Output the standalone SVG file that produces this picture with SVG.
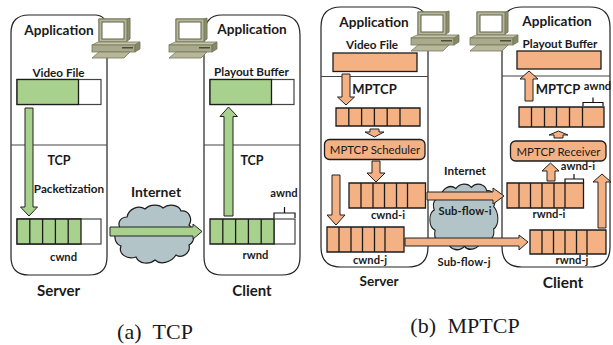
<svg xmlns="http://www.w3.org/2000/svg" width="613" height="345" viewBox="0 0 613 345">
<style>
text{font-family:Lato,"Liberation Sans",sans-serif;font-weight:700;fill:#1a1a1a;text-anchor:middle}
.app{font-size:13.6px}.md{font-size:11.7px}.sm{font-size:11.2px}.reg{font-size:11.4px;font-weight:400}
.big{font-size:15.500px}.srv{font-size:15px}.tcp{font-size:12.500px}.inet{font-size:14px}.mp{font-size:13px}
.cap{font-family:"Liberation Serif",serif;font-weight:400;font-size:22px;word-spacing:6px}
.panel{fill:#fff;stroke:#222;stroke-width:1.2}
.div{stroke:#444;stroke-width:1.1;fill:none}
.g{fill:#a9d18e;stroke:#1c1c1c;stroke-width:1.3}
.o{fill:#f4b183;stroke:#1c1c1c;stroke-width:1.3}
.w{fill:#fff;stroke:#444;stroke-width:1.2}
.ag{fill:#a9d18e;stroke:#222;stroke-width:1}
.ao{fill:#f4b183;stroke:#222;stroke-width:1}
.cl{fill:#b3c4c8;stroke:#1c1c1c;stroke-width:1.2}
.br{fill:none;stroke:#111;stroke-width:1.2}
</style>
<defs>
<g id="pc">
<path d="M7 1h28l3-1v21l-3 2H7z" fill="#8c8d6c" stroke="#77785a"/>
<rect x="7" y="1" width="28" height="23" fill="#b6b79b" stroke="#77785a"/>
<rect x="10" y="4" width="22" height="17" fill="#fff" stroke="#5f6048"/>
<path d="M0 27l6-3h42l-5 3z" fill="#c4c5aa" stroke="#77785a" stroke-width=".8"/>
<rect x="0" y="27" width="43" height="7" fill="#a9aa8c" stroke="#77785a" stroke-width=".8"/>
<path d="M43 27l5-3v7l-5 3z" fill="#85866a" stroke="#77785a" stroke-width=".8"/>
<rect x="30" y="29" width="11" height="1.5" fill="#4b4c38"/>
<path d="M0 40l7-6h31l-6 6z" fill="#b6b79b" stroke="#77785a" stroke-width=".8"/>
</g>
<path id="cloud" d="M12 12C14 3 24 0 30 4C35-1 44-1 48 3C54-2 64 0 66 6C74 5 78 14 74 20C80 25 81 36 74 40C76 48 67 54 61 50C56 58 45 60 40 55C34 60 24 59 21 52C12 55 3 49 6 41C-2 38-2 26 5 23C2 17 6 12 12 12Z"/>
</defs>

<g id="server-a">
<path class="panel" d="M11 145V33Q11 15 29 15H95Q107 15 107 30V257Q107 275 89 275H29Q11 275 11 257V145"/>
<path class="div" d="M11 145H107"/>
<text class="app" x="59" y="35">Application</text>
<text class="md" x="58.500" y="77">Video File</text>
<rect class="w" x="17" y="79.5" width="84" height="25"/>
<rect class="g" x="17" y="79.5" width="61.5" height="25"/>
<text class="tcp" x="59" y="164.500">TCP</text>
<text class="md" x="69" y="193">Packetization</text>
<rect class="w" x="17" y="219" width="84" height="25"/>
<path class="g" d="M17 219h12.800v25H17zM29.800 219h12.800v25H29.800zM42.600 219h12.800v25H42.600zM55.400 219h12.800v25H55.400zM68.200 219h12.800v25H68.200z"/>
<text class="sm" x="63.500" y="261">cwnd</text>
<text class="srv" x="58.500" y="296">Server</text>
</g>
<g id="client-a">
<path class="panel" d="M204 145V36Q204 15 222 15H280Q300 15 300 35V257Q300 275 282 275H222Q204 275 204 257V145"/>
<path class="div" d="M204 145H300"/>
<text class="app" x="252" y="34">Application</text>
<text class="md" x="251.500" y="75.500">Playout Buffer</text>
<rect class="w" x="210" y="79.500" width="84" height="25"/>
<rect class="g" x="210" y="79.500" width="61.500" height="25"/>
<text class="tcp" x="252" y="164.500">TCP</text>
<rect class="w" x="274" y="219" width="21" height="25"/>
<path class="g" d="M210 219h12.800v25H210zM222.800 219h12.800v25h-12.800zM235.600 219h12.800v25h-12.800zM248.400 219h12.800v25h-12.800zM261.200 219h12.800v25h-12.800z"/>
<path class="br" d="M274 218v-5h21v5M284.500 213v-6"/>
<text class="sm" x="284" y="197">awnd</text>
<text class="sm" x="255.500" y="259">rwnd</text>
<text class="srv" x="252" y="296">Client</text>
</g>
<g id="pc-a1"><use href="#pc" x="92" y="18"/></g>
<g id="pc-a2"><use href="#pc" x="169" y="18"/></g>
<g id="internet-a">
<use href="#cloud" class="cl" transform="translate(115 205)"/>
<text class="inet" x="156" y="197">Internet</text>
</g>

<g id="server-b">
<path class="panel" d="M321 137V27Q321 7 341 7H410Q428 7 428 27V247Q428 267 408 267H341Q321 267 321 247V137"/>
<path class="div" d="M321 76.500H428"/>
<text class="app" x="374" y="27">Application</text>
<text class="md" x="372" y="49">Video File</text>
<rect class="o" x="333" y="53" width="84" height="18.500"/>
<text class="mp" x="374.500" y="94">MPTCP</text>
<path class="o" d="M336 108h12.800v18H336zM348.800 108h12.800v18h-12.800zM361.600 108h12.800v18h-12.800zM374.400 108h12.800v18h-12.800zM387.200 108h12.800v18h-12.800zM400 108h20v18h-20z"/>
<g><rect class="o" x="324.500" y="139.500" width="100.500" height="20" rx="5"/><text class="reg" x="375" y="154">MPTCP Scheduler</text></g>
<path class="o" d="M349 183h12v25h-12zM361 183h12v25h-12zM373 183h11.500v25H373zM384.500 183h12v25h-12zM396.500 183h11v25h-11zM407.500 183h18v25h-18z"/>
<text class="sm" x="388" y="219">cwnd-i</text>
<path class="o" d="M327 227h12v25h-12zM339 227h12v25h-12zM351 227h11.500v25H351zM362.500 227h12v25h-12zM374.500 227h10.500v25h-10.500zM385 227h19v25h-19z"/>
<text class="sm" x="370" y="263.500">cwnd-j</text>
<text class="app" x="379" y="286">Server</text>
</g>
<g id="client-b">
<path class="panel" d="M502 137V27Q502 7 522 7H590Q610 7 610 27V247Q610 267 590 267H522Q502 267 502 247V137"/>
<path class="div" d="M502 76H610"/>
<text class="app" x="557" y="26">Application</text>
<text class="md" x="560" y="48">Playout Buffer</text>
<rect class="o" x="517" y="51" width="84" height="18"/>
<text class="mp" x="558" y="93.500">MPTCP</text>
<text class="sm" x="597.500" y="90">awnd</text>
<path class="br" d="M583 106v-3.500h20v3.500M593 102.500v-5"/>
<path class="o" d="M519 107h12.500v20H519zM531.500 107h13v20h-13zM544.500 107h12v20h-12zM556.500 107h13v20h-13zM569.500 107h13v20h-13zM582.500 107h21.500v20h-21.500z"/>
<g><rect class="o" x="510.500" y="141" width="95.500" height="20" rx="5"/><text class="reg" x="558.500" y="155.500" textLength="84">MPTCP Receiver</text></g>
<text class="sm" x="578" y="170">awnd-i</text>
<path class="br" d="M565 183v-4h18.500v4M574 179v-5"/>
<path class="o" d="M507 183h12v25h-12zM519 183h11.500v25H519zM530.500 183h11.500v25H530.500zM542 183h12v25h-12zM554 183h11v25h-11zM565 183h18.500v25H565z"/>
<text class="sm" x="549" y="218">rwnd-i</text>
<path class="o" d="M530 230h12v24h-12zM542 230h11.500v24H542zM553.500 230h11.500v24h-11.500zM565 230h11.500v24H565zM576.500 230h10.500v24h-10.500zM587 230h19v24h-19z"/>
<text class="sm" x="572" y="263.500">rwnd-j</text>
<text class="big" x="563" y="288">Client</text>
</g>
<g id="pc-b1"><use href="#pc" x="411" y="11"/></g>
<g id="pc-b2"><use href="#pc" x="470" y="11"/></g>
<g id="internet-b">
<use href="#cloud" class="cl" transform="translate(430 184) scale(.86 1.13)"/>
<text class="md" x="465" y="175">Internet</text>
</g>

<g id="connectors">
<path class="ag" d="M25 108h8v99h4.500l-8.500 9-8.500-9H25z"/>
<path class="ag" d="M224 216v-99.500h-4l8.500-9.500 9 9.500H233V216z"/>
<path class="ag" d="M110 227h83v-3l9 7.500-9 7.500v-3h-83z"/>
<path class="ao" d="M342 74h8v23h4.500L346 105l-8.500-8H342z"/>
<path class="ao" d="M370 129h9v3h5l-9.500 5-9.500-5h5z"/>
<path class="ao" d="M372 161h8v12h5l-9 9-9-9h5z"/>
<path class="ao" d="M332 175h8v40h5l-9 10-9-10h5z"/>
<path class="ao" d="M427 192h66v-4l11 8-11 8v-4h-66z"/>
<path class="ao" d="M405 238h114v-3l9 7-9 8v-4H405z"/>
<path class="ao" d="M525 101V79h-5l9-8 9 8h-5v22z"/>
<path class="ao" d="M554 138v-3h-5l9.500-4 9.500 4h-5v3z"/>
<path class="ao" d="M547 181v-10h-5l8.500-8 8.500 8h-4v10z"/>
<path class="ao" d="M598 228v-46h-5l9-8 9 8h-5v46z"/>
</g>
<g id="flow-labels">
<text class="sm" x="465" y="215" textLength="53">Sub-flow-i</text>
<text class="sm" x="464" y="266" textLength="53">Sub-flow-j</text>
</g>
<g id="captions">
<text class="cap" x="155" y="339">(a) TCP</text>
<text class="cap" x="465" y="333">(b) MPTCP</text>
</g>
</svg>
